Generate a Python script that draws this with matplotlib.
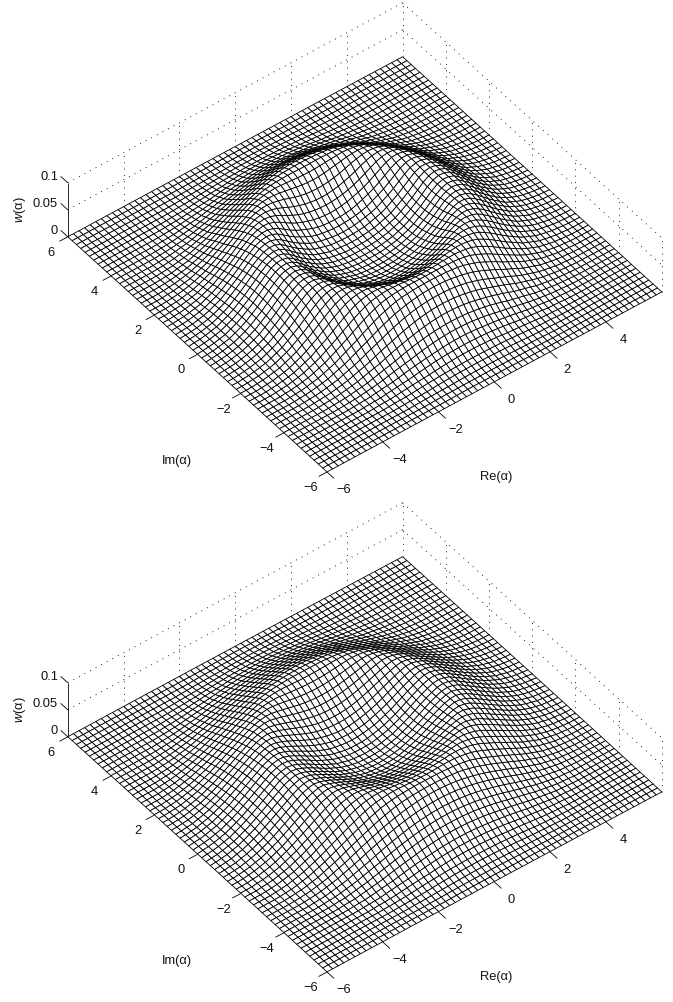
import numpy as np
import matplotlib
matplotlib.use("Agg")
import matplotlib.pyplot as plt
from mpl_toolkits.mplot3d import Axes3D  # noqa: F401
from mpl_toolkits.mplot3d.art3d import Line3DCollection

plt.rcParams['font.family'] = ['Liberation Sans', 'DejaVu Sans']
plt.rcParams['mathtext.fontset'] = 'custom'
plt.rcParams['mathtext.it'] = 'Liberation Sans:italic'
plt.rcParams['mathtext.rm'] = 'Liberation Sans'

# Grid (10 cells between labelled ticks, so step 0.2)
grid_re = np.linspace(-6, 6, 61)
grid_im = np.linspace(-6, 6, 61)
re_ticks = [-6, -4, -2, 0, 2, 4]
im_ticks = [-6, -4, -2, 0, 2, 4, 6]
w_ticks = [0, 0.05, 0.1]
w_labels = ['0', '0.05', '0.1']

# Radial height estimates; the surfaces are treated as
# rotationally symmetric around the origin.
radius = [0, 0.5, 1, 1.5, 2, 2.25, 2.5, 2.7, 2.85, 3.0, 3.2, 3.5, 4, 4.5, 5, 5.5, 6, 9]
w_top = [0.018, 0.019, 0.024, 0.034, 0.052, 0.063, 0.074, 0.079, 0.080, 0.079,
         0.075, 0.063, 0.040, 0.021, 0.009, 0.003, 0.0005, 0]
w_bottom = [0.020, 0.022, 0.029, 0.041, 0.056, 0.063, 0.069, 0.072, 0.072, 0.070,
            0.066, 0.056, 0.039, 0.023, 0.011, 0.004, 0.001, 0]

W, H = 673, 1002
PANEL_H = 501
CORNER = (327.0, 472.0)
RE_VEC = (27.9, -15.0)
IM_VEC = (-21.6, -19.6)
Z_PX = -540.0
PX0 = CORNER[0] + 6 * RE_VEC[0] + 6 * IM_VEC[0]
PY0 = CORNER[1] + 6 * RE_VEC[1] + 6 * IM_VEC[1]


def make_proj(ax):
    def get_proj():
        vl = ax.viewLim
        sx = vl.width / W
        sy = -vl.height / PANEL_H
        return np.array([
            [RE_VEC[0] * sx, IM_VEC[0] * sx, 0, vl.x0 + PX0 * sx],
            [RE_VEC[1] * sy, IM_VEC[1] * sy, Z_PX * sy, vl.y1 + PY0 * sy],
            [0.0216, 0.0279, -5.8, 0],
            [0, 0, 0, 1.0]])
    return get_proj


def frac(x, y, z):
    """Axes-fraction position of a data point under the panel's projection."""
    px = PX0 + RE_VEC[0] * x + IM_VEC[0] * y
    py = PY0 + RE_VEC[1] * x + IM_VEC[1] * y + Z_PX * z
    return px / W, 1 - py / PANEL_H


def panel(rect, profile):
    ax = fig.add_axes(rect, projection='3d', computed_zorder=False)
    ax.apply_aspect = lambda position=None: None
    ax.get_proj = make_proj(ax)
    ax.set_axis_off()
    ax.patch.set_alpha(0)

    X, Y = np.meshgrid(grid_re, grid_im)
    Z = np.interp(np.hypot(X, Y), radius, profile)

    ax.plot_surface(X, Y, Z, rstride=1, cstride=1, color='white', edgecolor='k',
                    linewidth=0.6, shade=False, zorder=2, antialiased=True)

    dotted = []
    for zv in w_ticks[1:]:
        dotted.append([(-6, 6, zv), (6, 6, zv)])
        dotted.append([(6, 6, zv), (6, -6, zv)])
    for xv in re_ticks[1:] + [6]:
        dotted.append([(xv, 6, 0), (xv, 6, 0.1)])
    for yv in im_ticks[:-1]:
        dotted.append([(6, yv, 0), (6, yv, 0.1)])
    ax.add_collection3d(Line3DCollection(dotted, colors='k', linewidths=0.65,
                                         linestyles=[(0, (1, 6))], zorder=5,
                                         clip_on=False), autolim=False)

    solid = [[(-6, 6, 0), (-6, 6, 0.1)]]
    solid += [[(-6, 6, zv), (-6, 6.33, zv)] for zv in w_ticks]
    solid += [[(xv, -6, 0), (xv, -6.33, 0)] for xv in re_ticks]
    solid += [[(-6, yv, 0), (-6.3, yv, 0)] for yv in im_ticks]
    ax.add_collection3d(Line3DCollection(solid, colors='k', linewidths=0.6, zorder=6,
                                         clip_on=False), autolim=False)

    txt = dict(fontsize=9.3, color='#111111', zorder=7, clip_on=False,
               transform=ax.transAxes)
    for zv, lab in zip(w_ticks, w_labels):
        ax.text2D(*frac(-6, 6.45, zv - 0.005), lab, ha='right', va='center', **txt)
    for xv in re_ticks:
        ax.text2D(*frac(xv, -6.79, -0.005), str(xv).replace('-', '\u2212'),
                  ha='center', va='center', **txt)
    for yv in im_ticks:
        ax.text2D(*frac(-6.6, yv, -0.013), str(yv).replace('-', '\u2212'),
                  ha='center', va='center', **txt)

    ax.text2D(496 / W, 1 - 477 / PANEL_H, 'Re(\u03b1)', ha='center', va='center', **txt)
    ax.text2D(177 / W, 1 - 461 / PANEL_H, 'Im(\u03b1)', ha='center', va='center', **txt)
    ax.text2D(20 / W, 1 - 210 / PANEL_H, '$\\mathit{w}$(\u03b1)',
              ha='center', va='center', rotation=90, **txt)
    return ax


fig = plt.figure(figsize=(W / 100, H / 100), dpi=100, facecolor='white')
panel([0, 1 - PANEL_H / H, 1, PANEL_H / H], w_top)
panel([0, 1 - (PANEL_H + 500) / H, 1, PANEL_H / H], w_bottom)
fig.savefig('out.png', dpi=100)
